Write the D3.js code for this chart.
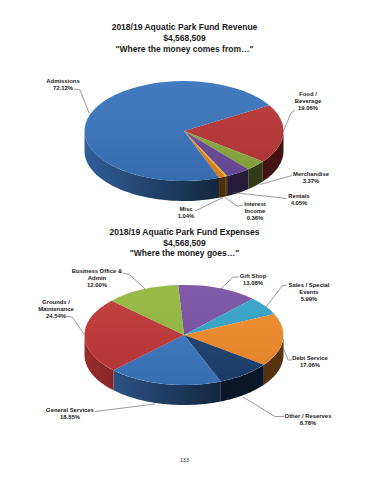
<!DOCTYPE html>
<html>
<head>
<meta charset="utf-8">
<script src="https://cdn.jsdelivr.net/npm/d3@7/dist/d3.min.js"></script>
<style>
html, body { margin: 0; padding: 0; background: #fff; }
text { font-family: "Liberation Sans", Arial, sans-serif; font-weight: bold; fill: #1a1a1a; }
</style>
</head>
<body>
<div id="container"></div>
<script>
// values, "|" marks a line break in a label
var revenueNames = ['Food /|Beverage', 'Merchandise', 'Rentals', 'Interest|Income', 'Misc', 'Admissions'];
var revenueValues = [19.06, 3.37, 4.05, 0.36, 1.04, 72.12];
var revenueColors = ['#b93636', '#8aa93f', '#6c4a9c', '#f2c21d', '#e5841f', '#3a74bc'];
var revenueTitle = ['2018/19 Aquatic Park Fund Revenue', '$4,568,509', '"Where the money comes from…"'];

var expenseNames = ['Gift Shop', 'Sales / Special|Events', 'Debt Service', 'Other / Reserves', 'General Services', 'Grounds /|Maintenance', 'Business Office &|Admin'];
var expenseValues = [13.08, 5.99, 17.06, 8.78, 18.55, 24.54, 12.00];
var expenseColors = ['#7a52a4', '#33a4c8', '#f08a2b', '#1d406f', '#3c76bf', '#bf3737', '#93b83f'];
var expenseTitle = ['2018/19 Aquatic Park Fund Expenses', '$4,568,509', '"Where the money goes…"'];

var pageNumber = '133';

var width = 370,
    height = 480,
    radiusX = 99.5,
    radiusY = 50,
    depth = 20,
    svg;

// where each label sits and how its leader line runs to the pie
var revenueCallouts = [
    { x: 308, y: 96, leader: [[295, 110], [291, 113], [283, 132]] },
    { x: 311, y: 176, leader: [[292, 175.5], [260, 184.5]] },
    { x: 299, y: 198, leader: [[287, 198.5], [233, 192.5]] },
    { x: 255, y: 206, leader: [[243, 205.5], [237, 206], [225, 197.5]] },
    { x: 186, y: 211, leader: [[195, 211], [223, 197.5]] },
    { x: 63, y: 82.5, leader: [[74, 89], [80, 90], [89, 113]] }
];
var expenseCallouts = [
    { x: 253, y: 278, leader: [[239, 277], [233, 277], [221, 289]] },
    { x: 309, y: 287, leader: [[287, 285], [282, 286], [266, 307]] },
    { x: 310, y: 360, leader: [[292, 360], [288, 360], [283, 347]] },
    { x: 308, y: 418, leader: [[284, 416.5], [275, 416.5], [243, 397]] },
    { x: 70, y: 412, leader: [[95, 411.5], [155, 404]] },
    { x: 56, y: 303.5, leader: [[66, 316.5], [72, 317], [84, 334]] },
    { x: 97, y: 273, leader: [[123, 273], [130, 275], [145, 289]] }
];

function createSvg() {
    svg = d3.select('#container')
        .append('svg')
        .attr('width', width)
        .attr('height', height)
        .style('display', 'block');
}

function sideAngles(a0, a1) {
    // only the part of a slice between 3 and 9 o'clock shows its wall
    var lo = Math.PI / 2, hi = 3 * Math.PI / 2, parts = [];
    [-2, 0, 2].forEach(function (k) {
        var s = Math.max(a0, lo + k * Math.PI), e = Math.min(a1, hi + k * Math.PI);
        if (e > s) parts.push([s, e]);
    });
    return parts;
}

function renderPie(id, cx, cy, startDeg, values, colors) {
    var x = d3.scaleLinear().domain([-1, 1]).range([cx - radiusX, cx + radiusX]);
    var y = d3.scaleLinear().domain([-1, 1]).range([cy - radiusY, cy + radiusY]);
    var start = startDeg * Math.PI / 180;
    var pie = d3.pie().sort(null).startAngle(start).endAngle(start + 2 * Math.PI);
    var slices = pie(values);
    var defs = svg.append('defs');
    var g = svg.append('g');

    colors.forEach(function (c, i) {
        var grad = defs.append('linearGradient')
            .attr('id', id + 'side' + i)
            .attr('gradientUnits', 'userSpaceOnUse')
            .attr('x1', x(-1)).attr('x2', x(1)).attr('y1', 0).attr('y2', 0);
        grad.append('stop').attr('offset', 0).attr('stop-color', d3.rgb(c).darker(0.6));
        grad.append('stop').attr('offset', 0.66).attr('stop-color', d3.rgb(c).darker(3));
        grad.append('stop').attr('offset', 1).attr('stop-color', d3.rgb(c).darker(2.8));
    });

    var wall = d3.line()
        .x(function (d) { return x(Math.sin(d.a)); })
        .y(function (d) { return y(-Math.cos(d.a)) + d.h; });

    slices.forEach(function (s, i) {
        sideAngles(s.startAngle, s.endAngle).forEach(function (p) {
            var steps = d3.range(0, 41).map(function (k) { return p[0] + (p[1] - p[0]) * k / 40; });
            var pts = steps.map(function (a) { return { a: a, h: 0 }; })
                .concat(steps.slice().reverse().map(function (a) { return { a: a, h: depth }; }));
            g.append('path')
                .attr('d', wall(pts) + 'Z')
                .attr('fill', 'url(#' + id + 'side' + i + ')');
        });
    });

    var arc = d3.arc().innerRadius(0).outerRadius(1);
    g.append('g')
        .attr('transform', 'translate(' + cx + ',' + cy + ') scale(' + radiusX + ',' + radiusY + ')')
        .selectAll('path')
        .data(slices)
        .enter()
        .append('path')
        .attr('d', arc)
        .attr('fill', function (d, i) { return colors[i]; });

    // faint sheen over the top face
    var sheen = defs.append('linearGradient')
        .attr('id', id + 'sheen')
        .attr('x1', 0).attr('x2', 0).attr('y1', 0).attr('y2', 1);
    sheen.append('stop').attr('offset', 0).attr('stop-color', '#fff').attr('stop-opacity', 0.05);
    sheen.append('stop').attr('offset', 1).attr('stop-color', '#000').attr('stop-opacity', 0.07);
    g.append('ellipse')
        .attr('cx', cx).attr('cy', cy)
        .attr('rx', radiusX).attr('ry', radiusY)
        .attr('fill', 'url(#' + id + 'sheen)');
}

function renderTitle(lines, top) {
    svg.append('text')
        .attr('text-anchor', 'middle')
        .attr('font-size', 8.5)
        .selectAll('tspan')
        .data(lines)
        .enter()
        .append('tspan')
        .attr('x', 184.5)
        .attr('y', function (d, i) { return top + i * 10.6; })
        .text(function (d) { return d; });
}

function renderCallouts(callouts, names, values) {
    var leader = d3.line();
    var fmt = d3.format('.2f');
    callouts.forEach(function (c, i) {
        svg.append('path')
            .attr('d', leader(c.leader))
            .attr('fill', 'none')
            .attr('stroke', '#555')
            .attr('stroke-width', 0.6);
        var lines = names[i].split('|').concat(fmt(values[i]) + '%');
        svg.append('text')
            .attr('text-anchor', 'middle')
            .attr('font-size', 5.9)
            .selectAll('tspan')
            .data(lines)
            .enter()
            .append('tspan')
            .attr('x', c.x)
            .attr('y', function (d, j) { return c.y + j * 7.2; })
            .text(function (d) { return d; });
    });
}

createSvg();
renderPie('rev', 184, 131, 59, revenueValues, revenueColors);
renderPie('exp', 184, 335, -3.4, expenseValues, expenseColors);
renderTitle(revenueTitle, 30.4);
renderTitle(expenseTitle, 235);
renderCallouts(revenueCallouts, revenueNames, revenueValues);
renderCallouts(expenseCallouts, expenseNames, expenseValues);

svg.append('text')
    .attr('x', 184.5)
    .attr('y', 462)
    .attr('text-anchor', 'middle')
    .attr('font-size', 5)
    .style('font-weight', 'normal')
    .text(pageNumber);
</script>
</body>
</html>
